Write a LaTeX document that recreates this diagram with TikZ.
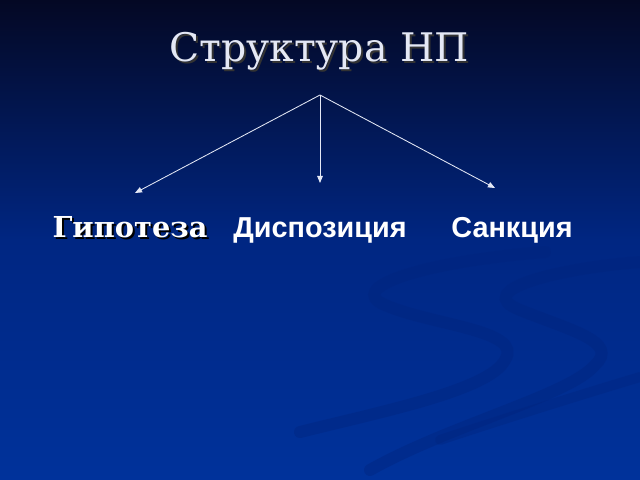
\documentclass[tikz,border=0pt]{standalone}
\usepackage{fontspec}
\setmainfont{DejaVu Serif}
\setsansfont{Liberation Sans}
\usetikzlibrary{arrows.meta}
\definecolor{bgtop}{RGB}{4,8,36}
\definecolor{bgmid}{RGB}{0,38,130}
\definecolor{bgbot}{RGB}{0,50,155}
\definecolor{swoosh}{RGB}{0,36,125}
\definecolor{inkwhite}{RGB}{228,232,245}

\begin{document}
\begin{tikzpicture}[x=0.025cm, y=-0.025cm, 
    link/.style = {-{Triangle[length=5pt, width=4pt]}, draw=inkwhite, line width=0.6pt},
    heading/.style = {anchor=base, font=\fontsize{28}{34}\selectfont},
    term/.style = {anchor=base, text=white, font=\sffamily\bfseries\fontsize{20.5}{25}\selectfont},
    sterm/.style = {anchor=base, font=\bfseries\fontsize{20.5}{25}\selectfont}]
    % Background
    \useasboundingbox (0,0) rectangle (640,480);
    \shade[top color=bgtop, bottom color=bgbot, middle color=bgmid] (0,0) rectangle (640,480);
    \draw[swoosh, line width=3mm, opacity=0.4, line cap=round]
        (545,252) .. controls (420,262) and (345,288) .. (385,305)
        .. controls (430,325) and (525,330) .. (505,360)
        .. controls (490,390) and (380,412) .. (300,432);
    \draw[swoosh, line width=3mm, opacity=0.4, line cap=round]
        (640,262) .. controls (560,268) and (470,290) .. (520,310)
        .. controls (570,330) and (620,342) .. (595,365)
        .. controls (570,395) and (450,425) .. (370,470);
    \draw[swoosh, line width=2.5mm, opacity=0.35, line cap=round]
        (640,377) .. controls (580,395) and (500,420) .. (440,440);

    % Nodes
    \node[heading, text=black!80] (titleshadow) at (321,64) {Структура НП};
    \node[heading, text=inkwhite] (title) at (319,62) {Структура НП};

    \coordinate (top) at (320,95);
    \coordinate (endleft) at (135,193);
    \coordinate (endmid) at (320,183);
    \coordinate (endright) at (495,188);

    \node[sterm, text=black] (hypshadow) at (132,239) {Гипотеза};
    \node[sterm, text=white] (hyp) at (130,237) {Гипотеза};
    \node[term] (disp) at (320,237) {Диспозиция};
    \node[term] (sanc) at (512,237) {Санкция};

    % Edges
    \draw[link] (top) -- (endleft);
    \draw[link] (top) -- (endmid);
    \draw[link] (top) -- (endright);

\end{tikzpicture}
\end{document}
